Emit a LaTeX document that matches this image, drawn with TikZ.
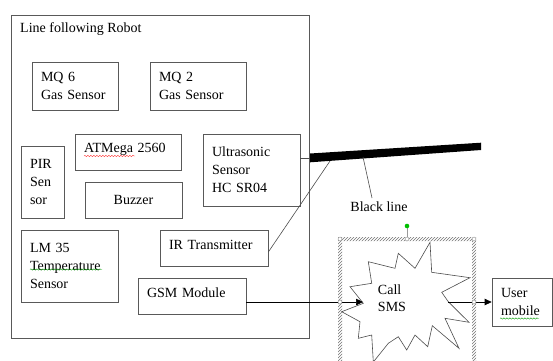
\documentclass[tikz,border=0pt]{standalone}
\usepackage{fontspec}
\setmainfont{Liberation Serif}
\usetikzlibrary{positioning,arrows.meta,patterns,decorations.pathmorphing}

\tikzset{
    box/.style={draw=black!65,line width=0.7pt,align=left,inner xsep=9pt,inner ysep=0pt,
        font=\fontsize{14}{18}\selectfont},
    link/.style={draw=black!70,line width=0.6pt},
    flow/.style={draw=black,line width=0.7pt,-{Triangle[length=7pt,width=6.5pt]}},
    handle/.style={draw=black!45,fill=white,line width=0.4pt},
    squiggle/.style={decorate,decoration={snake,segment length=3pt,amplitude=0.7pt},line width=0.4pt}
}

\begin{document}
\begin{tikzpicture}[x=1pt,y=-1pt]
    \useasboundingbox (0,0) rectangle (553,360);
    \clip (0,0) rectangle (553,360);

    % robot enclosure
    \node[box,minimum width=298pt,minimum height=323pt] (robot) at (160,176.5) {};
    \node[anchor=west,font=\fontsize{14}{18}\selectfont,inner sep=0pt] (title) at (20,29) {Line following Robot};

    \node[box,text width=68pt,minimum height=48pt] (mq6) at (75,86) {MQ 6\\Gas Sensor};
    \node[box,text width=78pt,minimum height=48pt] (mq2) at (198,86) {MQ 2\\Gas Sensor};
    \node[box,text width=88pt,minimum height=36pt,text depth=8pt] (atmega) at (128,152) {ATMega 2560};
    \node[box,text width=25pt,minimum height=72pt] (pir) at (42.5,182) {PIR\\Sen\\sor};
    \node[box,text width=79pt,minimum height=72pt] (ultra) at (251.5,170) {Ultrasonic\\Sensor\\HC SR04};
    \node[box,align=center,minimum width=97pt,minimum height=36pt] (buzzer) at (133.5,200) {Buzzer};
    \node[box,text width=79pt,minimum height=72pt] (lm35) at (69.5,266) {LM 35\\Temperature\\Sensor};
    \node[box,text width=90pt,minimum height=36pt,text depth=6pt] (ir) at (214,248) {IR Transmitter};
    \node[box,text width=90pt,minimum height=36pt,text depth=6pt] (gsm) at (192,296) {GSM Module};
    \node[box,text width=42pt,minimum height=48pt] (user) at (522,302) {User\\mobile};

    % spelling marks
    \draw[squiggle,red!80] (84,156) -- (135,156);
    \draw[squiggle,green!60!black] (30,269.5) -- (102,269.5);
    \draw[squiggle,green!60!black] (500,318.5) -- (539,318.5);

    % the black line on the floor
    \fill[black] (310,153.5) -- (481,142.7) -- (481,150) -- (310,162.3) -- cycle;
    \coordinate (bar-a) at (310,158);
    \coordinate (bar-b) at (330,161);
    \coordinate (bar-c) at (363,157);
    \coordinate (tag) at (372,198);
    \node[font=\fontsize{14}{18}\selectfont,inner sep=0pt] (blackline) at (379,207) {Black line};

    \draw[link] (ultra.east |- bar-a) -- (bar-a);
    \draw[link] ([yshift=-4pt]ir.east) -- (bar-b);
    \draw[link] (bar-c) -- (tag);

    % selection frame
    \fill[pattern=north east lines,pattern color=black!55,even odd rule]
        (338,237) rectangle (476,400) (342,241) rectangle (472,400);
    \draw[black!40,line width=0.4pt] (407,228) -- (407,239);
    \fill[green!75!black] (407,226) circle (2.3pt);
    \foreach \hx/\hy in {340/239,407/239,474/239,340/302,474/302}
        \draw[handle] (\hx,\hy) circle (2pt);

    % starburst
    \draw[black!70,fill=white,line width=0.6pt]
        (430,242.3) -- (431.7,272.3) -- (470,277.7) -- (441.7,292.3) -- (448.3,301.7)
        -- (469,322.3) -- (445,318.3) -- (459,348.3) -- (432.3,325.7) -- (427.7,346.7)
        -- (415,335) -- (406.7,350) -- (398.3,336.7) -- (388.3,343.3) -- (373.3,362)
        -- (371.7,335) -- (358.3,338.3) -- (360,321.7) -- (341.7,311.7) -- (363.3,303.3)
        -- (350,286.7) -- (371.7,283.3) -- (368.3,261.7) -- (395,268.3) -- (398.3,253.3)
        -- (415,268.3) -- cycle;
    \node[align=left,font=\fontsize{14}{17}\selectfont,inner sep=0pt] (call) at (392,298.5) {Call\\SMS};
    \coordinate (burst-in) at (363,302);
    \coordinate (burst-out) at (448.3,302);

    \draw[flow] (gsm.east |- burst-in) -- (burst-in);
    \draw[flow] (burst-out) -- (user.west);
    \foreach \hx/\hy in {340/302,474/302}
        \draw[handle] (\hx,\hy) circle (2pt);
\end{tikzpicture}
\end{document}
